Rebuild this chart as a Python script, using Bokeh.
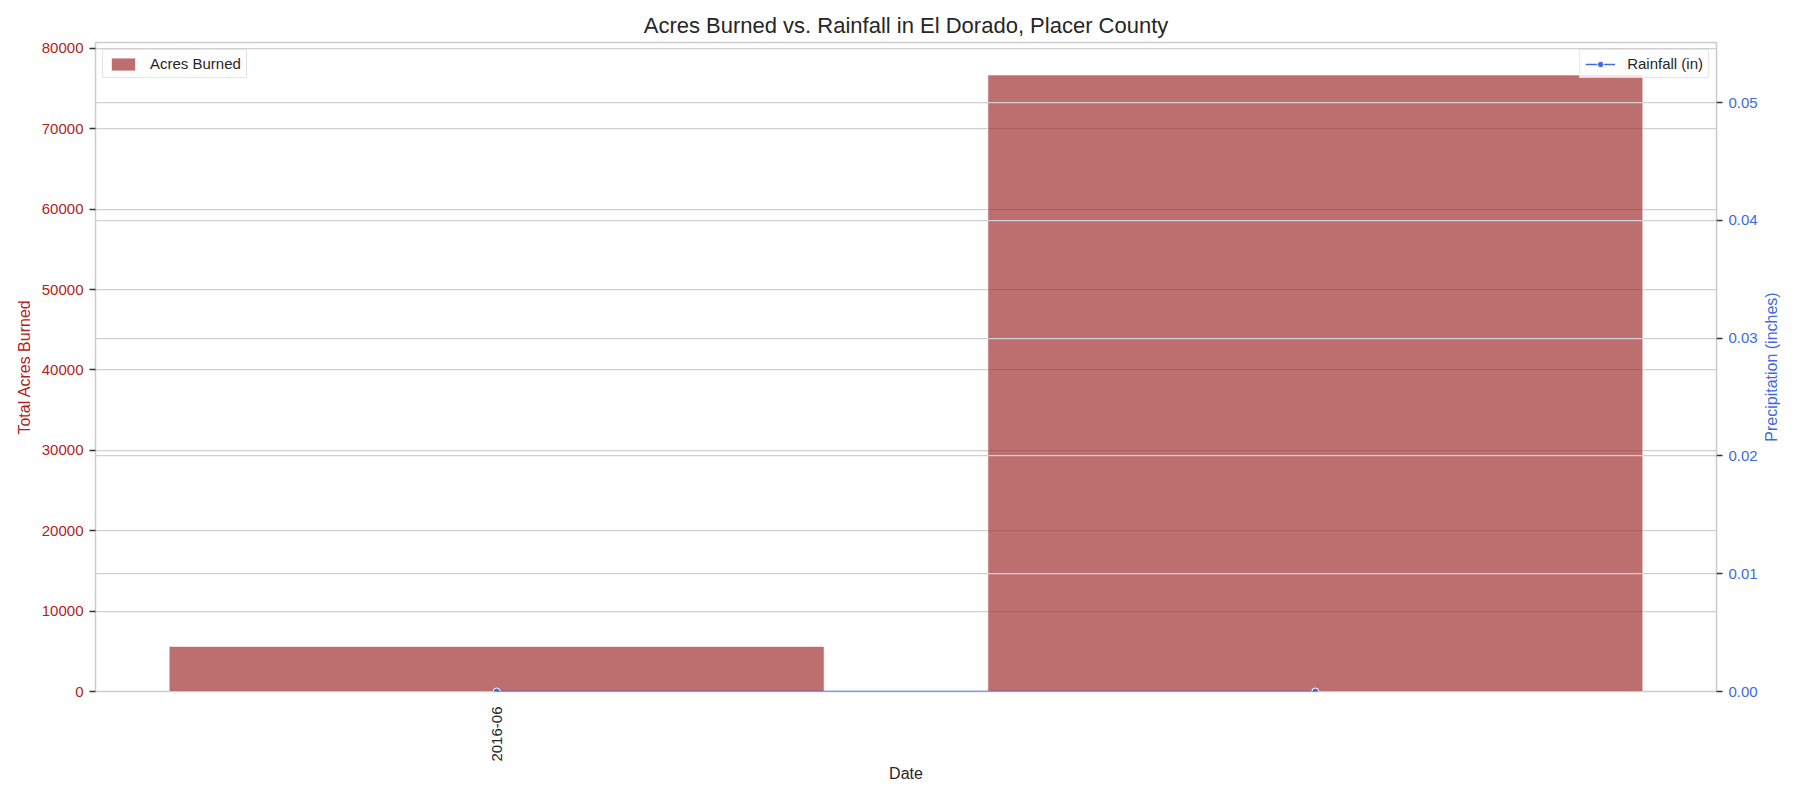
from bokeh.plotting import figure
from bokeh.layouts import row
from bokeh.models import (Range1d, LinearAxis, SingleIntervalTicker, FixedTicker,
                          NumeralTickFormatter, Grid, Legend, LegendItem)
from bokeh.core.properties import value
from bokeh.embed import file_html
from bokeh.resources import INLINE
import math

# ---- data ----
bar_index = [0, 1]
acres_burned = [5600, 76700]
rainfall_in = [0.0, 0.0]
tick_positions = [0]
tick_labels = ["2016-06"]

FONT = "Liberation Sans"
RED = "#b22222"
BLUE = "#4169e1"
GRID = "#d0d0d0"

p = figure(width=1760, height=800, output_backend="svg", toolbar_location=None,
           x_range=Range1d(-0.49, 1.49), y_range=Range1d(0, 80745),
           min_border_left=95, min_border_right=42, min_border_top=42, min_border_bottom=109)
p.extra_y_ranges = {"rain": Range1d(0, 0.0551)}

p.title.text = "Acres Burned vs. Rainfall in El Dorado, Placer County"
p.title.align = "center"
p.title.text_font = FONT
p.title.text_font_size = "22px"
p.title.text_font_style = "normal"
p.title.text_color = "#262626"
p.title.standoff = 10

p.outline_line_color = "#cccccc"
p.outline_line_width = 1.5
p.background_fill_color = "white"
p.border_fill_color = "white"

# bars
bars = p.vbar(x=bar_index, top=acres_burned, width=0.8, bottom=0,
              fill_color="#9f3230", fill_alpha=0.7,
              line_color="white", line_alpha=0.6, line_width=1)

# rainfall line
rl = p.line(x=bar_index, y=rainfall_in, y_range_name="rain", line_color=BLUE, line_width=1.5)
rs = p.scatter(x=bar_index, y=rainfall_in, y_range_name="rain", marker="circle", size=7,
               fill_color=BLUE, line_color="white", line_width=1)

# axes
p.xaxis.ticker = FixedTicker(ticks=tick_positions)
p.xaxis.major_label_overrides = {t: l for t, l in zip(tick_positions, tick_labels)}
p.xaxis.major_label_orientation = math.pi / 2
p.xaxis.axis_label = "Date"
p.xaxis.axis_label_text_font = FONT
p.xaxis.axis_label_text_font_size = "16px"
p.xaxis.axis_label_text_font_style = "normal"
p.xaxis.axis_label_text_color = "#262626"
p.xaxis.major_label_text_font = FONT
p.xaxis.major_label_text_font_size = "15px"
p.xaxis.major_label_text_color = "#262626"
p.xaxis.major_tick_line_color = None
p.xaxis.minor_tick_line_color = None
p.xaxis.axis_line_color = None
p.xaxis.major_label_standoff = 9
p.xaxis.axis_label_standoff = 0

p.yaxis.ticker = SingleIntervalTicker(interval=10000)
p.yaxis.formatter = NumeralTickFormatter(format="0")
p.yaxis.axis_label = "Total Acres Burned"
p.yaxis.axis_label_text_font = FONT
p.yaxis.axis_label_text_font_size = "16px"
p.yaxis.axis_label_text_font_style = "normal"
p.yaxis.axis_label_text_color = RED
p.yaxis.major_label_text_font = FONT
p.yaxis.major_label_text_font_size = "15px"
p.yaxis.major_label_text_color = RED
p.yaxis.major_tick_line_color = "#333333"
p.yaxis.major_tick_line_width = 1.5
p.yaxis.major_tick_out = 6
p.yaxis.major_tick_in = 0
p.yaxis.minor_tick_line_color = None
p.yaxis.axis_line_color = None
p.yaxis.major_label_standoff = 6
p.yaxis.axis_label_standoff = 6

rax = LinearAxis(y_range_name="rain", ticker=SingleIntervalTicker(interval=0.01),
                 formatter=NumeralTickFormatter(format="0.00"))
rax.major_label_text_font = FONT
rax.major_label_text_font_size = "15px"
rax.major_label_text_color = BLUE
rax.major_tick_line_color = "#333333"
rax.major_tick_line_width = 1.5
rax.major_tick_out = 6
rax.major_tick_in = 0
rax.minor_tick_line_color = None
rax.axis_line_color = None
rax.major_label_standoff = 6
p.add_layout(rax, "right")

# grids
p.xgrid.grid_line_color = None
p.ygrid.grid_line_color = GRID
p.ygrid.grid_line_width = 1.25
rgrid = Grid(dimension=1, ticker=rax.ticker, y_range_name="rain",
             grid_line_color=GRID, grid_line_width=1.25, level="annotation")
p.add_layout(rgrid)

# legends
leg1 = Legend(items=[LegendItem(label="Acres Burned", renderers=[bars])], location="top_left")
leg2 = Legend(items=[LegendItem(label="Rainfall (in)", renderers=[rl, rs])], location="top_right")
for lg in (leg1, leg2):
    lg.label_text_font = FONT
    lg.label_text_font_size = "15px"
    lg.label_text_color = "#262626"
    lg.border_line_color = "#cccccc"
    lg.border_line_width = 1
    lg.background_fill_alpha = 0.8
    lg.margin = 7
    lg.padding = 5
    lg.spacing = 0
    lg.glyph_width = 30
    lg.glyph_height = 16
    lg.label_standoff = 12
    lg.label_height = 16
    p.add_layout(lg)

# narrow side panel holding the right axis title (reads bottom-to-top)
side = figure(width=40, height=800, output_backend="svg", toolbar_location=None,
              x_range=Range1d(0, 1), y_range=Range1d(0, 1),
              x_axis_type=None, y_axis_type=None,
              min_border_left=0, min_border_right=0, min_border_top=42, min_border_bottom=109)
side.outline_line_color = None
side.background_fill_color = "white"
side.border_fill_color = "white"
side.text(x=[0.275], y=[0.5], text=["Precipitation (inches)"], angle=math.pi / 2,
          text_align="center", text_baseline="middle",
          text_font=value(FONT), text_font_size="16px", text_color=BLUE)

layout = row(p, side, spacing=0)
open("out.html", "w").write(file_html(layout, INLINE))
